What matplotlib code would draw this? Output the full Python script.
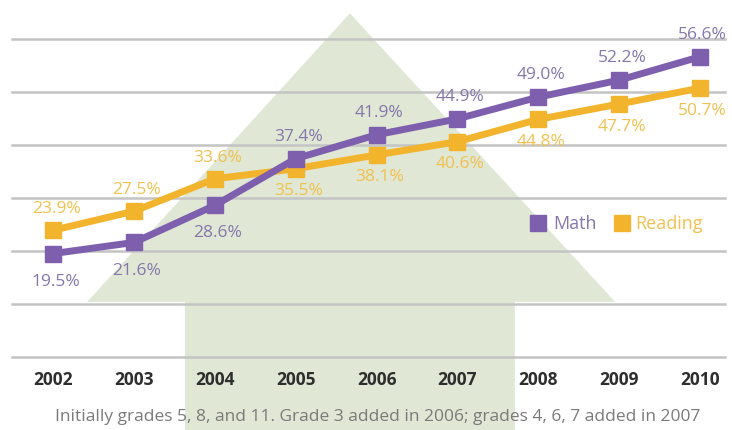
import matplotlib
matplotlib.use("Agg")
import matplotlib.pyplot as plt
from matplotlib.patches import Polygon

years = [2002, 2003, 2004, 2005, 2006, 2007, 2008, 2009, 2010]
math = [19.5, 21.6, 28.6, 37.4, 41.9, 44.9, 49.0, 52.2, 56.6]
reading = [23.9, 27.5, 33.6, 35.5, 38.1, 40.6, 44.8, 47.7, 50.7]
# label placement: +1 above the marker, -1 below
math_side = [-1, -1, -1, 1, 1, 1, 1, 1, 1]
reading_side = [1, 1, 1, -1, -1, -1, -1, -1, -1]
caption = "Initially grades 5, 8, and 11. Grade 3 added in 2006; grades 4, 6, 7 added in 2007"

PURPLE = "#7d5fae"
GOLD = "#f2b42c"
PURPLE_TXT = "#8577ab"
GOLD_TXT = "#f0c14e"
ARROW = "#e0e7d4"

plt.rcParams["font.family"] = ["Open Sans", "DejaVu Sans"]

fig = plt.figure(figsize=(7.32, 4.31), dpi=100)
ax = fig.add_axes([12 / 732, 73 / 431, 713 / 732, 358 / 431])
ax.set_xlim(2001.49, 2010.31)
ax.set_ylim(0, 67.5)
ax.axis("off")

# big background arrow (decoration)
arrow = [(2003.63, -14), (2003.63, 10.4), (2002.42, 10.4), (2005.67, 64.8),
         (2008.95, 10.4), (2007.71, 10.4), (2007.71, -14)]
ax.add_patch(Polygon(arrow, closed=True, facecolor=ARROW, edgecolor="none",
                     zorder=0, clip_on=False))

for g in range(0, 61, 10):
    ax.axhline(g, color="#c4c4c4", lw=1.8, zorder=1, clip_on=False)

ax.plot(years, reading, color=GOLD, lw=5, marker="s", ms=11, zorder=3)
ax.plot(years, math, color=PURPLE, lw=5, marker="s", ms=11, zorder=4)

for x, v, s in zip(years, math, math_side):
    off = 16.5 if s > 0 else 19.5
    ax.annotate(f"{v:.1f}%", (x, v), xytext=(2, off * s), textcoords="offset points",
                ha="center", va="center", fontsize=12.5, color=PURPLE_TXT, zorder=5)
for x, v, s in zip(years, reading, reading_side):
    off = 16 if s > 0 else 15.5
    ax.annotate(f"{v:.1f}%", (x, v), xytext=(2, off * s), textcoords="offset points",
                ha="center", va="center", fontsize=12.5, color=GOLD_TXT, zorder=5)

for x in years:
    ax.text(x, -4.2, str(x), ha="center", va="center", fontsize=12.5,
            fontweight="bold", color="#2e2e2e")

# legend
ax.plot([2008.0], [25.2], marker="s", ms=12, color=PURPLE, ls="none")
ax.text(2008.18, 25.2, "Math", fontsize=13, color=PURPLE_TXT, va="center")
ax.plot([2009.03], [25.2], marker="s", ms=12, color=GOLD, ls="none")
ax.text(2009.2, 25.2, "Reading", fontsize=13, color=GOLD_TXT, va="center")

fig.text(378 / 732, 1 - 417 / 431, caption, ha="center", va="center",
         fontsize=12.5, color="#7a7a7a")

fig.savefig("out.png", dpi=100)
